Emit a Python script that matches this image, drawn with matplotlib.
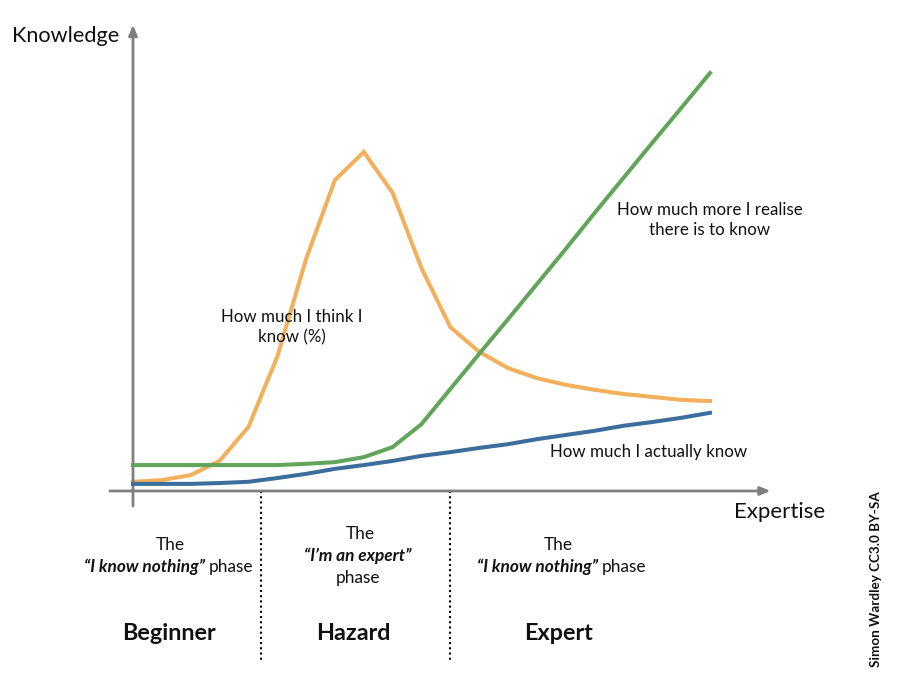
import matplotlib
matplotlib.use("Agg")
import matplotlib.pyplot as plt

# ---- data ----
steps = list(range(21))
think_know = [2.2, 2.6, 3.8, 7.2, 15.3, 32.1, 55.5, 74.4, 81.1, 71.3, 53.3,
              39.2, 33.3, 29.4, 27.0, 25.4, 24.2, 23.2, 22.5, 21.8, 21.5]
realise_more = [6.2, 6.2, 6.2, 6.2, 6.2, 6.2, 6.5, 6.9, 8.1, 10.5, 16.0,
                24.4, 32.8, 41.1, 49.5, 57.9, 66.5, 74.9, 83.3, 91.6, 100.0]
actually_know = [1.7, 1.7, 1.7, 1.9, 2.2, 3.1, 4.1, 5.3, 6.2, 7.2, 8.4,
                 9.3, 10.3, 11.2, 12.4, 13.4, 14.4, 15.6, 16.5, 17.5, 18.7]
phase_bounds = [4.44, 11.0]

ORANGE = "#F2AF5C"
GREEN = "#61A55B"
BLUE = "#3B6E9C"
GRAY = "#7F7F7F"

plt.rcParams['font.family'] = ['Lato', 'DejaVu Sans']

W, H = 903, 689
fig = plt.figure(figsize=(W / 100, H / 100), dpi=100)
ax = fig.add_axes([0, 0, 1, 1])
ax.set_xlim(-4.61, 26.69)
ax.set_ylim(-47.37, 117.46)
ax.axis('off')

lw = 2.9
ax.plot(steps, think_know, color=ORANGE, lw=lw, solid_joinstyle='miter', zorder=3)
ax.plot(steps, realise_more, color=GREEN, lw=lw, solid_joinstyle='miter', zorder=4)
ax.plot(steps, actually_know, color=BLUE, lw=lw, solid_joinstyle='miter', zorder=5)

# axes with arrows
ax.annotate('', xy=(0, 111.5), xytext=(0, -3.6),
            arrowprops=dict(arrowstyle='-|>,head_length=0.6,head_width=0.25',
                            color=GRAY, lw=2, shrinkA=0, shrinkB=0))
ax.annotate('', xy=(22.1, 0), xytext=(-0.8, 0),
            arrowprops=dict(arrowstyle='-|>,head_length=0.6,head_width=0.25',
                            color=GRAY, lw=2, shrinkA=0, shrinkB=0))

for b in phase_bounds:
    ax.plot([b, b], [0, -41.0], color='black', lw=1.5, ls=(0, (1, 1.5)), zorder=2)

def t(x, y, s, **kw):
    fig.text(x / W, 1 - y / H, s, **kw)

TXT = '#111111'
BODY = 12.2
t(12, 36, 'Knowledge', fontsize=15.6, ha='left', va='center', color=TXT)
t(780, 512, 'Expertise', fontsize=16, ha='center', va='center', color=TXT)
t(710, 220, 'How much more I realise\nthere is to know', fontsize=BODY, ha='center',
  va='center', color=TXT, linespacing=1.3)
t(292, 327, 'How much I think I\nknow (%)', fontsize=BODY, ha='center', va='center',
  color=TXT, linespacing=1.3)
t(649, 452, 'How much I actually know', fontsize=BODY, ha='center', va='center', color=TXT)

# phase descriptions
PH = 12.4
t(170, 545, 'The', fontsize=PH, ha='center', va='center', color=TXT)
t(205, 567, '\u201cI know nothing\u201d', fontsize=PH, ha='right', va='center',
  color=TXT, style='italic', weight='bold')
t(209, 567, 'phase', fontsize=PH, ha='left', va='center', color=TXT)

t(360, 534, 'The', fontsize=PH, ha='center', va='center', color=TXT)
t(358, 556, '\u201cI\u2019m an expert\u201d', fontsize=PH, ha='center', va='center',
  color=TXT, style='italic', weight='bold')
t(358, 578, 'phase', fontsize=PH, ha='center', va='center', color=TXT)

t(558, 545, 'The', fontsize=PH, ha='center', va='center', color=TXT)
t(598, 567, '\u201cI know nothing\u201d', fontsize=PH, ha='right', va='center',
  color=TXT, style='italic', weight='bold')
t(602, 567, 'phase', fontsize=PH, ha='left', va='center', color=TXT)

for x, s in [(169, 'Beginner'), (353, 'Hazard'), (558, 'Expert')]:
    t(x, 634, s, fontsize=16.8, weight='bold', ha='center', va='center', color=TXT)

t(876, 579, 'Simon Wardley CC3.0 BY-SA', fontsize=9.7, weight='bold', rotation=90,
  ha='center', va='center', color=TXT)

fig.savefig('out.png', dpi=100)
